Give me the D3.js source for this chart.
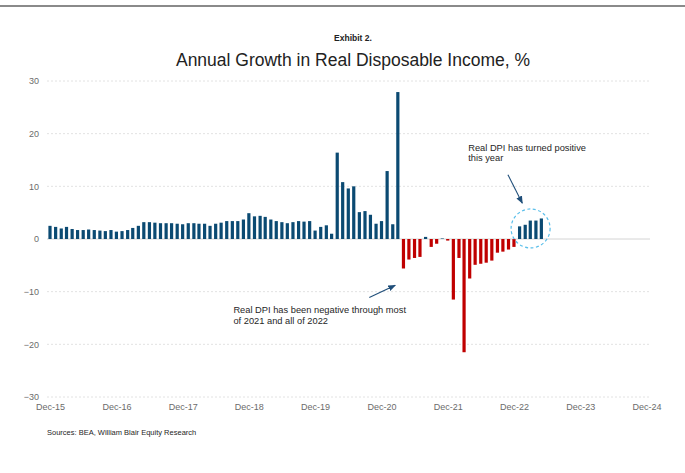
<!DOCTYPE html>
<html>
<head>
<meta charset="utf-8">
<script src="https://cdn.jsdelivr.net/npm/d3@7"></script>
<style>
  html, body { margin: 0; padding: 0; background: #fff; }
  svg { display: block; font-family: "Liberation Sans", Arial, sans-serif; }
</style>
</head>
<body>
<svg id="chart" width="685" height="473"></svg>
<script>
// Real disposable personal income, year-over-year % change, monthly from Dec-2015
const firstMonth = "2015-12";
const growth = [
  2.5, 2.3, 2.0, 2.3, 1.9, 1.7, 1.7, 1.8, 1.7, 1.6, 1.5, 1.7,
  1.4, 1.5, 1.7, 2.1, 2.5, 3.2, 3.2, 3.1, 3.0, 3.0, 3.0, 2.9,
  2.8, 3.0, 3.0, 2.9, 2.9, 2.5, 2.9, 3.1, 3.4, 3.4, 3.4, 3.7,
  4.9, 4.3, 4.4, 4.2, 3.7, 3.4, 3.2, 3.0, 3.2, 3.4, 3.3, 3.4,
  1.6, 2.3, 2.6, 1.0, 16.4, 10.8, 9.6, 10.0, 5.1, 5.3, 4.6, 2.9,
  3.4, 12.9, 2.8, 27.9, -5.6, -3.9, -3.6, -3.4, 0.4, -1.5, -0.9, 0.1,
  -0.3, -11.5, -3.6, -21.5, -7.5, -4.9, -4.7, -4.5, -4.1, -2.6, -2.4, -2.0,
  -1.5, 2.4, 2.7, 3.5, 3.5, 3.9
];
const yTicks = [-30, -20, -10, 0, 10, 20, 30];
const xTickLabels = ["Dec-15", "Dec-16", "Dec-17", "Dec-18", "Dec-19",
                     "Dec-20", "Dec-21", "Dec-22", "Dec-23", "Dec-24"];

const titleText = "Annual Growth in Real Disposable Income, %";
const exhibitText = "Exhibit 2.";
const sourceText = "Sources: BEA, William Blair Equity Research";
const noteNegative = ["Real DPI has been negative through most", "of 2021 and all of 2022"];
const notePositive = ["Real DPI has turned positive", "this year"];

const svg = d3.select("#chart");
const parseMonth = d3.timeParse("%Y-%m");
const start = parseMonth(firstMonth);
const months = growth.map((_, i) => d3.timeMonth.offset(start, i));
const tickDates = xTickLabels.map(s => d3.timeParse("%b-%y")(s));
const end = tickDates[tickDates.length - 1];

const x = d3.scaleTime().domain([start, end]).range([50, 646.6]);
const y = d3.scaleLinear().domain([-30, 30]).range([397, 81]);

// average month width, for placing notes at fractional month positions
const monthSpan = d3.timeMonth.count(start, end);
const mx = i => x(start) + (x(end) - x(start)) * i / monthSpan;

const POS = "#0b4a72", NEG = "#c00000", NAVY = "#1f4e79";

// header rule
svg.append("line").attr("x1", 0).attr("x2", 685).attr("y1", 6).attr("y2", 6)
  .attr("stroke", "#8a8a8a").attr("stroke-width", 2);

svg.append("text").attr("x", 353).attr("y", 41).attr("text-anchor", "middle")
  .attr("font-size", 8.5).attr("font-weight", "bold").attr("fill", "#222")
  .text(exhibitText);
svg.append("text").attr("x", 353).attr("y", 66).attr("text-anchor", "middle")
  .attr("font-size", 17.5).attr("fill", "#222").text(titleText);

// gridlines
const gridL = 47, gridR = 650;
svg.append("g").selectAll("line").data(yTicks).join("line")
  .attr("x1", gridL).attr("x2", gridR)
  .attr("y1", d => y(d)).attr("y2", d => y(d))
  .attr("stroke", d => d === 0 ? "#d4d4d4" : "#e2e2e2")
  .attr("stroke-width", 1)
  .attr("stroke-dasharray", d => d === 0 ? null : "2,2");

// y axis labels
const yAxis = d3.axisLeft(y).tickValues(yTicks).tickSize(0).tickPadding(0)
  .tickFormat(d3.format("d"));
const gy = svg.append("g").attr("transform", "translate(39,0)").call(yAxis);
gy.select(".domain").remove();
gy.selectAll("text").attr("font-size", 9).attr("fill", "#6b6b6b")
  .attr("font-family", "Liberation Sans, Arial, sans-serif");

// x axis labels
const xAxis = d3.axisBottom(x).tickValues(tickDates).tickSize(0).tickPadding(0)
  .tickFormat(d3.timeFormat("%b-%y"));
const gx = svg.append("g").attr("transform", "translate(0,404)").call(xAxis);
gx.select(".domain").remove();
gx.selectAll("text").attr("font-size", 9).attr("fill", "#6b6b6b")
  .attr("font-family", "Liberation Sans, Arial, sans-serif");

// bars
const bw = 3.2;
svg.append("g").selectAll("rect").data(growth).join("rect")
  .attr("x", (d, i) => x(months[i]) - bw / 2)
  .attr("width", bw)
  .attr("y", d => y(Math.max(0, d)))
  .attr("height", d => Math.abs(y(d) - y(0)))
  .attr("fill", d => d < 0 ? NEG : POS);

// arrow marker
const defs = svg.append("defs");
defs.append("marker").attr("id", "head").attr("viewBox", "0 0 10 10")
  .attr("refX", 9).attr("refY", 5).attr("markerWidth", 7).attr("markerHeight", 7)
  .attr("orient", "auto-start-reverse")
  .append("path").attr("d", "M0,1 L10,5 L0,9 Z").attr("fill", NAVY);

// note on the negative run
svg.append("line")
  .attr("x1", mx(57.8)).attr("y1", y(-11.1))
  .attr("x2", mx(62.5)).attr("y2", y(-8.8))
  .attr("stroke", NAVY).attr("stroke-width", 1.1).attr("marker-end", "url(#head)");
svg.append("text").attr("font-size", 9.3).attr("fill", "#262626")
  .selectAll("tspan").data(noteNegative).join("tspan")
  .attr("x", mx(33.2)).attr("y", (d, i) => y(-14.1) + i * 10.6)
  .text(d => d);

// note on the recent positive run
svg.append("line")
  .attr("x1", mx(82.9)).attr("y1", y(12.2))
  .attr("x2", mx(85.5)).attr("y2", y(6.8))
  .attr("stroke", NAVY).attr("stroke-width", 1.1).attr("marker-end", "url(#head)");
svg.append("text").attr("font-size", 9.3).attr("fill", "#262626")
  .selectAll("tspan").data(notePositive).join("tspan")
  .attr("x", mx(75.7)).attr("y", (d, i) => y(16.8) + i * 10.6)
  .text(d => d);

// dashed highlight ring around the latest bars
svg.append("circle")
  .attr("cx", mx(87)).attr("cy", y(2.0)).attr("r", 19.5)
  .attr("fill", "none").attr("stroke", "#5bbfea").attr("stroke-width", 1.2)
  .attr("stroke-dasharray", "3,2.5");

// source line
svg.append("text").attr("x", 47).attr("y", 435).attr("font-size", 7.5)
  .attr("fill", "#262626").text(sourceText);
</script>
</body>
</html>
